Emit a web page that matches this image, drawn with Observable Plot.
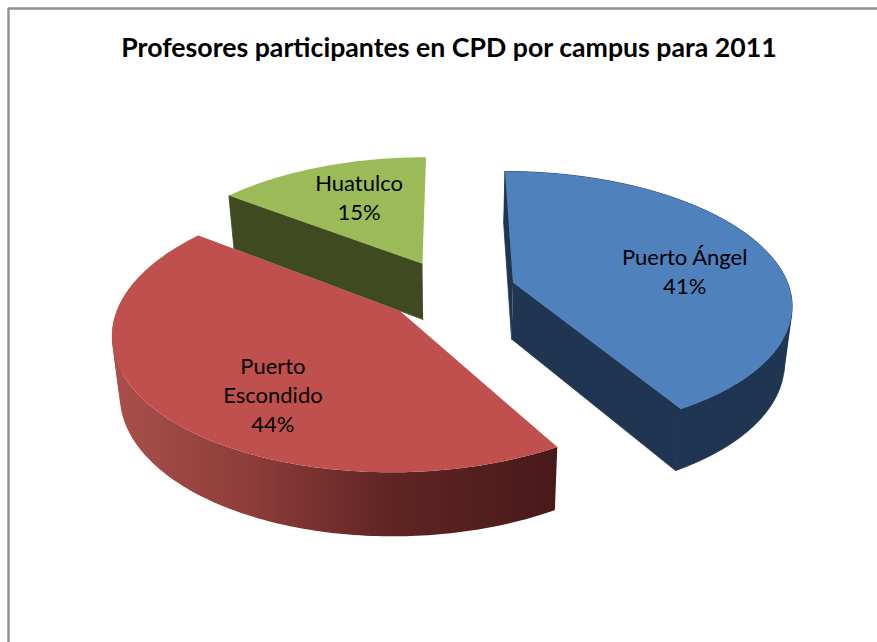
<!DOCTYPE html>
<html>
<head>
<meta charset="utf-8">
<script src="https://cdn.jsdelivr.net/npm/d3@7"></script>
<script src="https://cdn.jsdelivr.net/npm/@observablehq/plot@0.6"></script>
<style>html,body{margin:0;background:#fff}svg{display:block}</style>
</head>
<body>
<div id="chart"></div>
<script>
const chartTitle = "Profesores participantes en CPD por campus para 2011";
const campus = ["Puerto Ángel", "Puerto\nEscondido", "Huatulco"];
const percent = [41.6, 43.8, 14.6];
const percentLabel = ["41%", "44%", "15%"];

const topFill = ["#4f81bd", "#c0504d", "#9bbb59"];
const sideFill = ["#1f3552", "url(#redWall)", "#3f4a21"];
const endFill = ["#1f3552", "#49191a", "#3f4a21"];
const labelTurn = [6.5, -13, 2.5];
const labelRadius = [0.645, 0.68, 0.66];

const W = 877, H = 642;
const cx = 450, cy = 290, R = 277, Q = 130, p = 0.15, explode = 0.236;
const rad = (d) => d * Math.PI / 180;
const plan = (pt) => {
  const w = 1 + p * pt[1];
  return [cx + R * pt[0] / w, cy - Q * pt[1] / w];
};
const drop = ([x, y]) => [450 + (x - 450) * 0.977, y + 53 + (y - 196) * 0.04];

let acc = 0;
const slices = percent.map((v, i) => {
  const a0 = acc * 3.6; acc += v; const a1 = acc * 3.6;
  const mid = (a0 + a1) / 2;
  const ex = [explode * Math.sin(rad(mid)), explode * Math.cos(rad(mid))];
  const at = (ang, r) => plan([ex[0] + r * Math.sin(rad(ang)), ex[1] + r * Math.cos(rad(ang))]);
  const angles = d3.range(a0, a1, 1).concat([a1]);
  const rim = angles.map((a) => at(a, 1));
  const apex = at(0, 0);
  return {i, a0, a1, mid, rim, apex, at};
});

const pts = (arr) => arr.map(([x, y]) => ({x, y}));
const poly = (arr, fill) => Plot.line(pts(arr), {x: "x", y: "y", fill, stroke: "none", curve: "linear"});
// Flat-coloured faces get a hairline of their own colour so no pale seam shows between them.
const face = (arr, fill) => Plot.line(pts(arr), {x: "x", y: "y", fill, stroke: fill, strokeWidth: 0.8, curve: "linear"});
// The curved wall folds at the silhouette: split the rim there so each piece is a simple polygon.
const wallPieces = (rim) => {
  const pieces = [];
  let run = [rim[0]], sign = 0;
  rim.slice(1).forEach((b, n) => {
    const a = rim[n], d = drop(a);
    const c = Math.sign((b[0] - a[0]) * (d[1] - a[1]) - (b[1] - a[1]) * (d[0] - a[0]));
    if (sign !== 0 && c !== sign) { pieces.push(run); run = [a]; }
    sign = c;
    run.push(b);
  });
  pieces.push(run);
  return pieces;
};

const gradient = () => {
  const defs = d3.create("svg:defs");
  const g = defs.append("linearGradient").attr("id", "redWall")
    .attr("gradientUnits", "userSpaceOnUse").attr("x1", 118).attr("x2", 553).attr("y1", 0).attr("y2", 0);
  [[0, "#a84e4b"], [0.3, "#8e3d3a"], [0.62, "#602523"], [1, "#49191a"]].forEach(([o, c]) =>
    g.append("stop").attr("offset", o).attr("stop-color", c));
  return defs.node();
};

const marks = [gradient];
marks.push(Plot.ruleX([8], {y1: 8, y2: H, stroke: "#8f8f8f", strokeWidth: 2.4}));
marks.push(Plot.ruleY([8], {x1: 8, x2: W, stroke: "#8f8f8f", strokeWidth: 2.4}));

// Huatulco: only its left cut face shows.
{
  const s = slices[2];
  marks.push(face([s.apex, s.rim[0], drop(s.rim[0]), drop(s.apex)], endFill[2]));
  marks.push(poly([s.apex, ...s.rim], topFill[2]));
}
// Puerto Ángel: flat dark wall and cut faces, one colour.
{
  const s = slices[0];
  const first = s.rim[0], last = s.rim[s.rim.length - 1];
  wallPieces(s.rim).forEach((run) => marks.push(face(run.concat(run.map(drop).reverse()), sideFill[0])));
  marks.push(face([s.apex, first, drop(first), drop(s.apex)], endFill[0]));
  marks.push(face([s.apex, last, drop(last), drop(s.apex)], endFill[0]));
  marks.push(poly([s.apex, ...s.rim], topFill[0]));
}
// Puerto Escondido: cut faces are hidden behind the top; only the shaded wall shows.
{
  const s = slices[1];
  wallPieces(s.rim).forEach((run) => marks.push(poly(run.concat(run.map(drop).reverse()), sideFill[1])));
  marks.push(poly([s.apex, ...s.rim], topFill[1]));
}

const labels = slices.map((s) => {
  const [x, y] = s.at(s.mid + labelTurn[s.i], labelRadius[s.i]);
  return {x, y, text: campus[s.i] + "\n" + percentLabel[s.i]};
});
marks.push(Plot.text(labels, {x: "x", y: "y", text: "text", fontFamily: "Lato", fontSize: 22, lineHeight: 1.32, fill: "#000", textAnchor: "middle"}));
marks.push(Plot.text([chartTitle], {frameAnchor: "top", dx: 10, dy: 38, fontFamily: "Lato", fontWeight: 700, fontSize: 26.7, fill: "#000"}));

const plot = Plot.plot({
  width: W, height: H,
  marginTop: 0, marginRight: 0, marginBottom: 0, marginLeft: 0,
  x: {domain: [0, W], range: [0, W], axis: null},
  y: {domain: [0, H], range: [0, H], axis: null},
  style: {background: "#fff"},
  marks
});
document.getElementById("chart").append(plot);
</script>
</body>
</html>
